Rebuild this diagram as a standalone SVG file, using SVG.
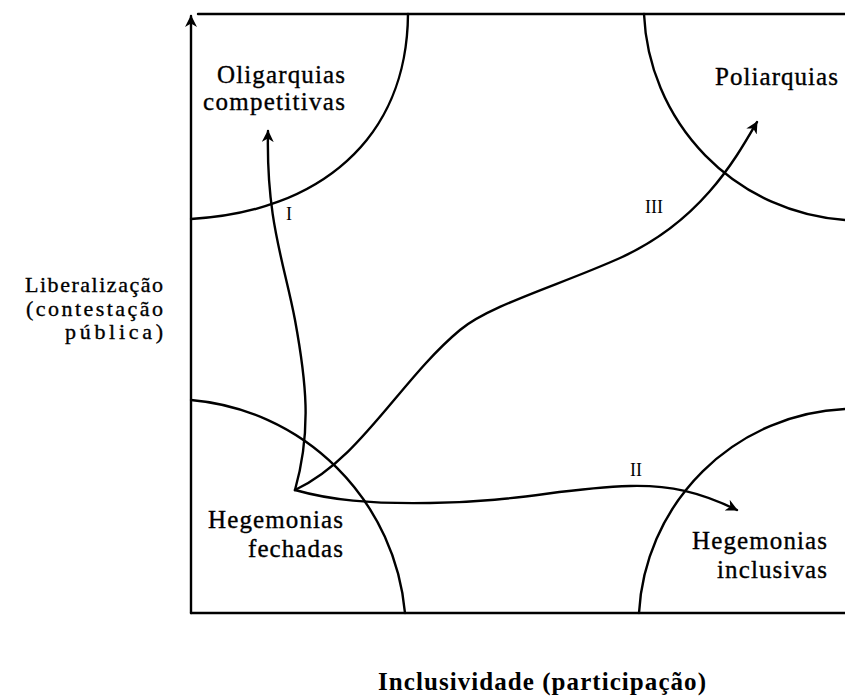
<svg xmlns="http://www.w3.org/2000/svg" width="845" height="697" viewBox="0 0 845 697">
<style>
.ln{fill:none;stroke:#000;stroke-width:2.4;stroke-linecap:round;stroke-linejoin:round}
.lb{font-family:"Liberation Serif","Times New Roman",serif;font-size:25px;fill:#000;stroke:#000;stroke-width:0.35}
.ax{font-family:"Liberation Serif","Times New Roman",serif;font-size:22px;fill:#000;stroke:#000;stroke-width:0.35}
.rn{font-family:"Liberation Serif","Times New Roman",serif;font-size:18px;fill:#000}
.ttl{font-family:"Liberation Serif","Times New Roman",serif;font-size:25px;font-weight:bold;fill:#000}
</style>
<defs>
<marker id="ah" viewBox="0 0 12 12" refX="11" refY="6" markerWidth="12" markerHeight="12" markerUnits="userSpaceOnUse" orient="auto">
<path d="M0,0 L12,6 L0,12 L3.5,6 z" fill="#000"/>
</marker>
</defs>
<rect width="845" height="697" fill="#fff"/>
<g id="frame">
<line class="ln" x1="198" y1="14" x2="845" y2="14"/>
<line class="ln" x1="191" y1="613" x2="845" y2="613"/>
<line class="ln" x1="191" y1="613" x2="191" y2="16" marker-end="url(#ah)"/>
</g>
<g id="regions">
<path class="ln" d="M408,14 C407,140 318,212 191,219"/>
<path class="ln" d="M644,14 A216,216 0 0 0 845,220"/>
<path class="ln" d="M191,400 A235,235 0 0 1 405,613"/>
<path class="ln" d="M639,613 A216,216 0 0 1 845,409"/>
</g>
<g id="connectors">
<path class="ln" d="M295,490 C312,430 306,380 295,320 C284,262 266,220 268,131" marker-end="url(#ah)"/>
<path class="ln" d="M295,490 C330,500 370,504 430,503 C520,502 560,488 630,486 C670,485 700,492 737,510" marker-end="url(#ah)"/>
<path class="ln" d="M295,490 C360,460 400,380 460,330 C490,305 560,285 620,258 C700,222 735,160 757,122" marker-end="url(#ah)"/>
</g>
<g id="node-oligarquias">
<text class="lb" x="217" y="83" textLength="128">Oligarquias</text>
<text class="lb" x="203" y="110" textLength="142">competitivas</text>
</g>
<g id="node-poliarquias">
<text class="lb" x="715" y="85" textLength="123">Poliarquias</text>
</g>
<g id="node-hegemonias-fechadas">
<text class="lb" x="208" y="528" textLength="135">Hegemonias</text>
<text class="lb" x="248" y="557" textLength="95">fechadas</text>
</g>
<g id="node-hegemonias-inclusivas">
<text class="lb" x="692" y="549" textLength="135">Hegemonias</text>
<text class="lb" x="717" y="578" textLength="110">inclusivas</text>
</g>
<g id="axis-labels">
<text class="ax" x="25" y="292" textLength="138">Liberalização</text>
<text class="ax" x="26" y="316" textLength="137">(contestação</text>
<text class="ax" x="65" y="339" textLength="98">pública)</text>
<text class="ttl" x="378" y="690" textLength="328">Inclusividade (participação)</text>
</g>
<g id="path-labels">
<text class="rn" x="286" y="220">I</text>
<text class="rn" x="630" y="476">II</text>
<text class="rn" x="645" y="213">III</text>
</g>
</svg>
